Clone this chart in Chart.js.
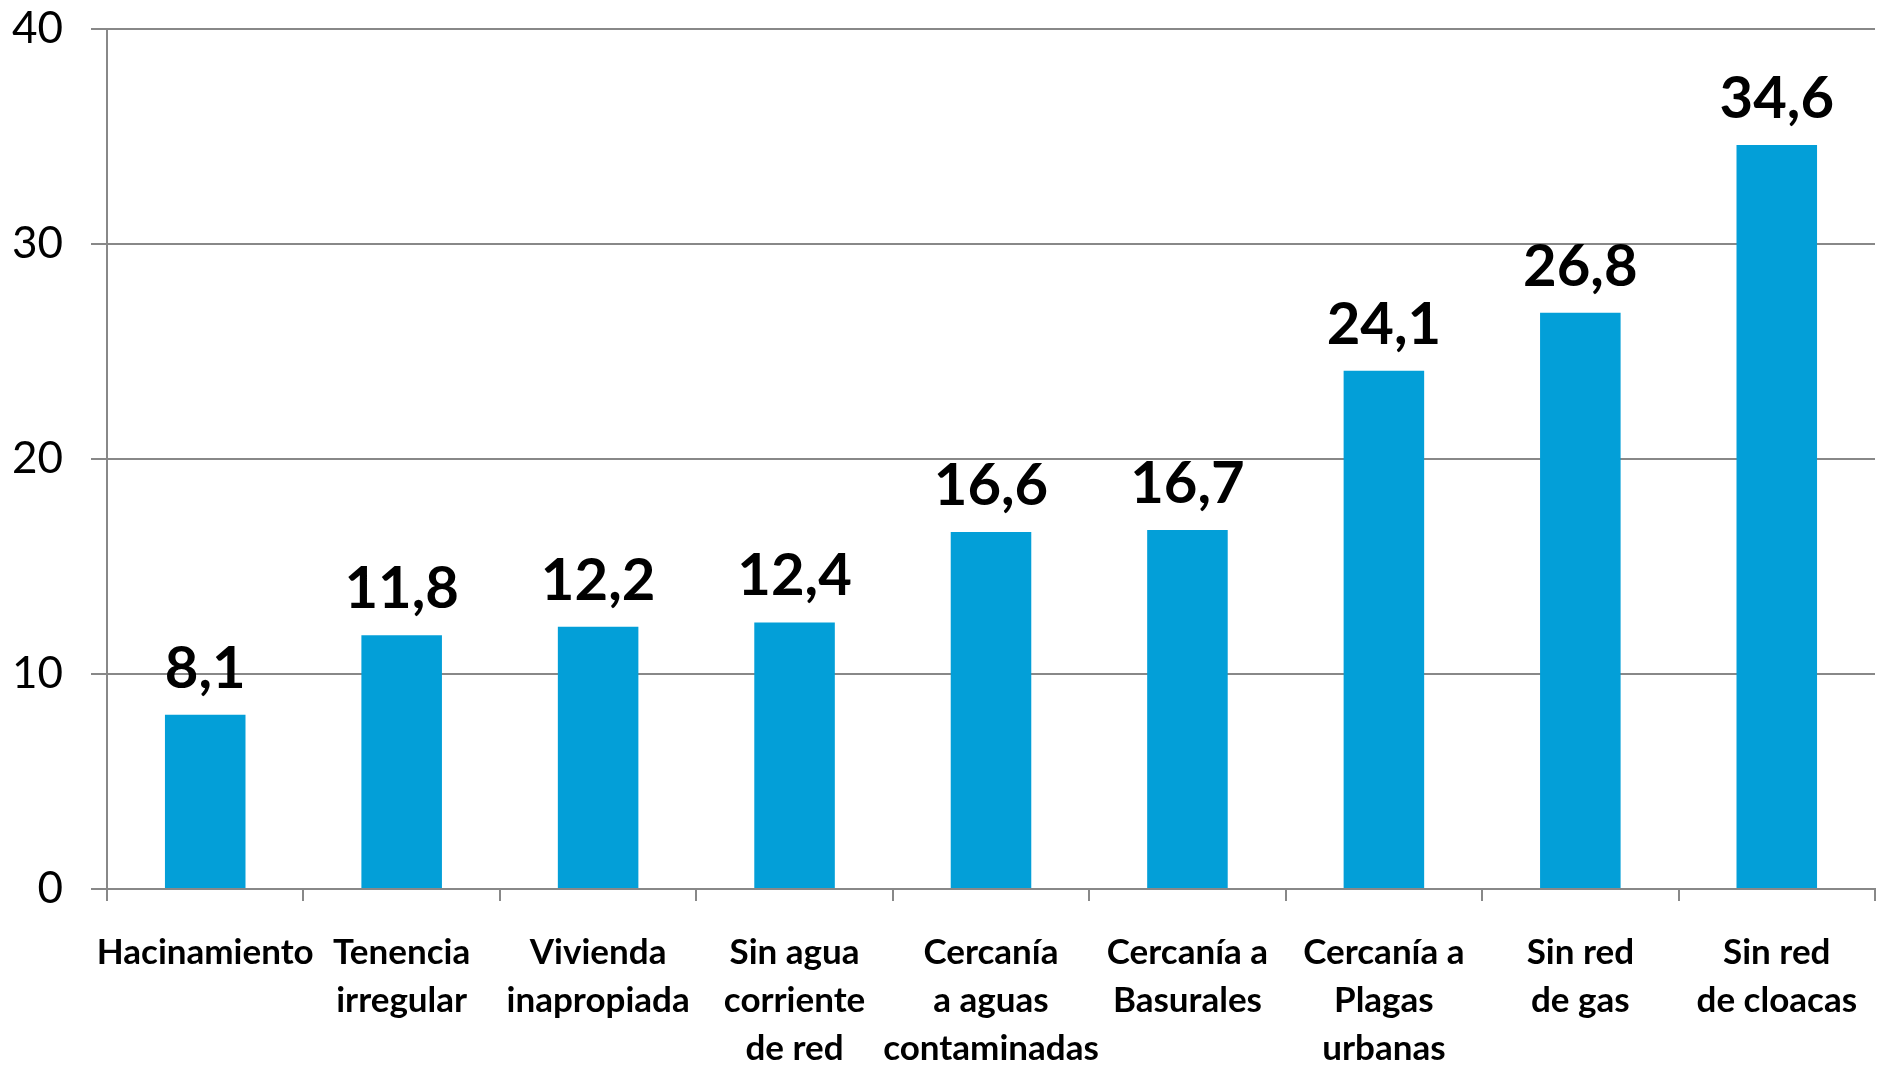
<!DOCTYPE html>
<html>
<head>
<meta charset="utf-8">
<script src="https://cdn.jsdelivr.net/npm/chart.js@4.4.1/dist/chart.umd.min.js"></script>
<style>
html,body{margin:0;padding:0;background:#fff;}
#wrap{width:1885px;height:1065px;position:relative;}
</style>
</head>
<body>
<div id="wrap"><canvas id="c" width="1885" height="1065"></canvas></div>
<script>
const categories = [
  ["Hacinamiento"],
  ["Tenencia","irregular"],
  ["Vivienda","inapropiada"],
  ["Sin agua","corriente","de red"],
  ["Cercanía","a aguas","contaminadas"],
  ["Cercanía a","Basurales"],
  ["Cercanía a","Plagas","urbanas"],
  ["Sin red","de gas"],
  ["Sin red","de cloacas"]
];
const values = [8.1, 11.8, 12.2, 12.4, 16.6, 16.7, 24.1, 26.8, 34.6];
const yTicks = [0, 10, 20, 30, 40];

const valueLabels = {
  id: 'valueLabels',
  afterDatasetsDraw(chart) {
    const ctx = chart.ctx;
    const meta = chart.getDatasetMeta(0);
    ctx.save();
    ctx.font = 'bold 58px Lato';
    ctx.fillStyle = '#000';
    ctx.textAlign = 'center';
    ctx.textBaseline = 'alphabetic';
    meta.data.forEach((bar, i) => {
      const txt = values[i].toFixed(1).replace('.', ',');
      ctx.fillText(txt, bar.x, bar.y - 27);
    });
    ctx.restore();
  }
};

new Chart(document.getElementById('c'), {
  type: 'bar',
  data: {
    labels: categories,
    datasets: [{
      data: values,
      backgroundColor: '#039fd8',
      borderWidth: 0,
      barPercentage: 0.41,
      categoryPercentage: 1.0
    }]
  },
  options: {
    responsive: false,
    animation: false,
    events: [],
    layout: { padding: { top: 29, right: 10, left: 0, bottom: 0 } },
    plugins: { legend: { display: false }, tooltip: { enabled: false } },
    scales: {
      x: {
        afterFit(s) { s.height = 176; s.paddingLeft = 0; s.paddingRight = 0; },
        border: { display: true, color: '#888', width: 2 },
        grid: { display: true, drawOnChartArea: false, drawTicks: true, tickLength: 12, color: '#888', lineWidth: 2, offset: true },
        ticks: {
          autoSkip: false, maxRotation: 0, minRotation: 0,
          color: '#000',
          font: { family: 'Lato', weight: 'bold', size: 35, lineHeight: 1.37 },
          padding: 28
        }
      },
      y: {
        min: 0, max: 40,
        afterFit(s) { s.width = 107; s.paddingTop = 0; s.paddingBottom = 0; },
        afterBuildTicks(s) { s.ticks = yTicks.map(v => ({ value: v })); },
        border: { display: true, color: '#888', width: 2 },
        grid: { color: '#888', lineWidth: 2, tickLength: 16, drawTicks: true },
        ticks: {
          color: '#000',
          font: { family: 'Lato', size: 44 },
          padding: 28
        }
      }
    }
  },
  plugins: [valueLabels]
});
</script>
</body>
</html>
